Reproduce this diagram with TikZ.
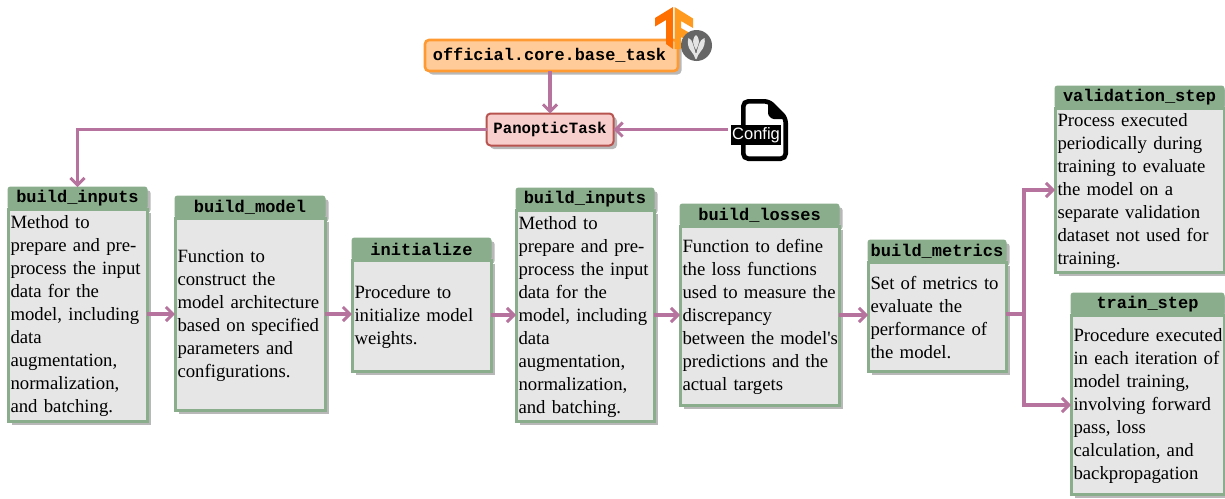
\documentclass[tikz,border=0pt]{standalone}
\usepackage{fontspec}
\setmainfont{Liberation Serif}
\setsansfont{Liberation Sans}
\setmonofont{Liberation Mono}
\usetikzlibrary{arrows.meta,shadows,calc}
\definecolor{flowc}{HTML}{B5739D}
\definecolor{greenc}{HTML}{8AAE8C}
\definecolor{bodyc}{HTML}{E6E6E6}
\definecolor{orangef}{HTML}{FFCC99}
\definecolor{oranged}{HTML}{FF9A33}
\definecolor{redf}{HTML}{F8CECC}
\definecolor{redd}{HTML}{B85450}
\definecolor{tfa}{HTML}{FF6F00}
\definecolor{tfb}{HTML}{FF9A1F}
\definecolor{mgray}{HTML}{666666}
\definecolor{petal}{HTML}{E4E4E4}
\tikzset{
  x=1pt,y=-1pt,
  softshadow/.style={drop shadow={shadow xshift=3.5pt,shadow yshift=-3.5pt,fill=black!28,opacity=1}},
  flow/.style={draw=flowc,line width=3.2pt,-{Straight Barb[length=7pt,width=14pt,line width=3pt]}},
  flowplain/.style={draw=flowc,line width=3.2pt},
  cardbody/.style={draw=greenc,line width=3pt,fill=bodyc,softshadow,inner sep=0pt,outer sep=0pt,font=\fontsize{18.75}{23}\selectfont,align=left},
  cardhead/.style={draw=greenc,line width=1pt,fill=greenc,rounded corners=2.5pt,softshadow,inner sep=0pt,outer sep=0pt,font=\fontsize{17}{20}\selectfont\ttfamily\bfseries},
  topbox/.style={rounded corners=4pt,softshadow,inner sep=0pt,outer sep=0pt}
}
% name, x1, y1 (head top), x2, y2, head bottom, title, text
\newcommand{\card}[8]{%
  \node[cardhead,minimum width=#4pt-#2pt,minimum height=#6pt-#3pt,anchor=north west] (#1h) at (#2,#3) {#7};
  \node[cardbody,minimum width=#4pt-#2pt,minimum height=#5pt-#6pt,text width=#4pt-#2pt-1pt,anchor=north west] (#1) at (#2,#6) {\leftskip=2pt\relax\rule{0pt}{16pt}#8\par};
}
\begin{document}
\begin{tikzpicture}
\useasboundingbox (0,0) rectangle (1225,498);
\card{inputsa}{8}{187}{147}{421}{209}{build\_inputs}{Method to\\prepare and pre-\\process the input\\data for the\\model, including\\data\\augmentation,\\normalization,\\and batching.}
\card{model}{175}{196}{325}{410}{218}{build\_model}{Function to\\construct the\\model architecture\\based on specified\\parameters and\\configurations.}
\card{init}{352}{238}{491}{371}{260}{initialize}{Procedure to\\initialize model\\weights.}
\card{inputsb}{516}{188}{654}{421}{210}{build\_inputs}{Method to\\prepare and pre-\\process the input\\data for the\\model, including\\data\\augmentation,\\normalization,\\and batching.}
\card{losses}{680}{204}{839}{405}{226}{build\_losses}{Function to define\\the loss functions\\used to measure the\\discrepancy\\between the model\textquotesingle s\\predictions and the\\actual targets}
\card{metrics}{868}{240}{1006}{371}{262}{build\_metrics}{Set of metrics to\\evaluate the\\performance of\\the model.}
\card{val}{1055}{86}{1224}{272}{108}{validation\_step}{Process executed\\periodically during\\training to evaluate\\the model on a\\separate validation\\dataset not used for\\training.}
\card{train}{1071}{293}{1224}{494}{315}{train\_step}{Procedure executed\\in each iteration of\\model training,\\involving forward\\pass, loss\\calculation, and\\backpropagation}
% top boxes
\node[topbox,line width=2.6pt,draw=oranged,fill=orangef,minimum width=253pt,minimum height=31pt,font=\fontsize{16.9}{20}\selectfont\ttfamily\bfseries] (base) at (551.5,55.5) {\hspace*{-4pt}official.core.base\_task};
\node[topbox,line width=2pt,draw=redd,fill=redf,minimum width=127pt,minimum height=32pt,font=\fontsize{15.7}{20}\selectfont\ttfamily\bfseries] (task) at (550,129.5) {PanopticTask};
% TensorFlow logo
\fill[tfb] (674.5,7) -- (693,18.5) -- (693,28) -- (681,21) -- (681,28) -- (688,32) -- (688,41) -- (681,37) -- (681,49) -- (674.5,49) -- cycle;
\fill[tfa] (673,7) -- (655,18) -- (655,26.5) -- (666,20) -- (666,44) -- (673,49) -- cycle;
% round badge
\node[circle,fill=mgray,minimum size=31pt,inner sep=0pt] (badge) at (696.5,45.5) {};
\fill[petal] (695.5,59) .. controls (695,56) and (693,54) .. (691,51) .. controls (688,48) and (687,42) .. (688.5,38) .. controls (691,39) and (692,41) .. (692.5,43) .. controls (693.5,46) and (695,50) .. (695.5,53) -- (696.5,53) .. controls (697,50) and (698.5,46) .. (699.5,43) .. controls (700,41) and (702,39) .. (704.5,38) .. controls (705.5,42) and (704,48) .. (701,51) .. controls (699,54) and (697,56) .. (696.5,59) -- cycle;
\fill[petal] (696,35) .. controls (698.5,37) and (699.5,41) .. (698.5,44) .. controls (698,46) and (697,48) .. (696,50) .. controls (695,48) and (694,46) .. (693.5,44) .. controls (692.5,41) and (693.5,37) .. (696,35) -- cycle;
% config file icon
\draw[black,line width=4.6pt,fill=white,rounded corners=5pt] (743.3,101.3) -- (769,101.3) -- (785.7,118) -- (785.7,158.7) -- (743.3,158.7) -- cycle;
\fill[black,rounded corners=1.5pt] (768,100) -- (787,119) -- (772,119) -- (768,115) -- cycle;
\node[fill=black,text=white,inner sep=0pt,minimum width=50pt,minimum height=20pt,font=\fontsize{16.5}{20}\selectfont\sffamily] (cfg) at (756,135) {Config};
% connectors
\draw[flow] (base.south -| task.north) -- (task.north);
\draw[flow] (cfg.west |- task.east) ++(-3,0) coordinate (cfgw) -- (task.east);
\draw[flow] (task.west) -| (inputsah.north);
\draw[flow] (inputsa.east |- 0,314) -- (model.west |- 0,314);
\draw[flow] (model.east |- 0,314) -- (init.west |- 0,314);
\draw[flow] (init.east |- 0,315) -- (inputsb.west |- 0,315);
\draw[flow] (inputsb.east |- 0,315) -- (losses.west |- 0,315);
\draw[flow] (losses.east |- 0,315) -- (metrics.west |- 0,315);
\coordinate (split) at (1024,314);
\draw[flowplain] (metrics.east |- split) -- (split);
\draw[flow] (split) |- (val.west |- 0,190);
\draw[flow] (split) |- (train.west |- 0,405);
\end{tikzpicture}
\end{document}
